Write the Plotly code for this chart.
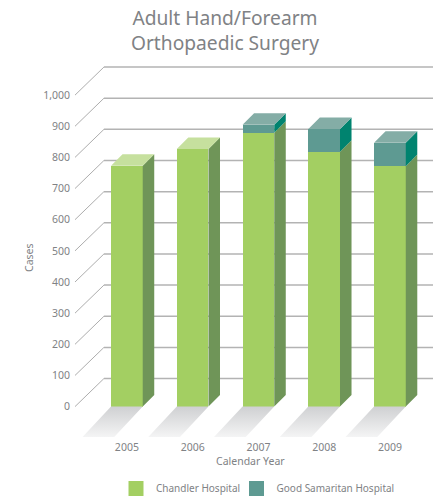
import plotly.graph_objects as go

years = ["2005", "2006", "2007", "2008", "2009"]
chandler = [773, 827, 879, 818, 772]
samaritan = [0, 0, 26, 73, 75]
y_ticks = [0, 100, 200, 300, 400, 500, 600, 700, 800, 900, 1000]

BAR_W = 0.482
DX, DY = 0.175, 37      # bar depth in axis units
GX, GY = 0.44, 90       # wall depth in axis units
SX, SY = -0.56, -126    # floor shadow in axis units
XR = [-0.789, 4.655]
YR = [-97.6, 1112.7]
FONT = "Noto Sans"
GREY = "#808285"

fig = go.Figure()
pos = list(range(len(years)))

# floor shadow
sx, sy = [], []
for i in pos:
    l, r = i - BAR_W / 2, i + BAR_W / 2
    sx += [l, r, r + SX, l + SX, l, None]
    sy += [0, 0, SY, SY, 0, None]
fig.add_trace(go.Scatter(x=sx, y=sy, mode="none", fill="toself", showlegend=False, hoverinfo="skip",
                         cliponaxis=False,
                         fillgradient=dict(type="vertical",
                                           colorscale=[[0, "#ffffff"], [1, "#cfd0d2"]])))

# front faces
fig.add_trace(go.Bar(x=pos, y=chandler, width=BAR_W, marker=dict(color="#A3CF62", line_width=0),
                     showlegend=False))
fig.add_trace(go.Bar(x=pos, y=samaritan, width=BAR_W, marker=dict(color="#5E9A92", line_width=0),
                     showlegend=False))


def side(lows, highs, color):
    xs, ys = [], []
    for i, lo, hi in zip(pos, lows, highs):
        if hi <= lo:
            continue
        r = i + BAR_W / 2
        xs += [r, r + DX, r + DX, r, r, None]
        ys += [lo, lo + DY, hi + DY, hi, lo, None]
    fig.add_trace(go.Scatter(x=xs, y=ys, mode="lines", line=dict(width=0), fill="toself", fillcolor=color,
                             showlegend=False, hoverinfo="skip", cliponaxis=False))


def top(idx, highs, color):
    xs, ys = [], []
    for i in idx:
        l, r = i - BAR_W / 2, i + BAR_W / 2
        h = highs[i]
        xs += [l, r, r + DX, l + DX, l, None]
        ys += [h, h, h + DY, h + DY, h, None]
    fig.add_trace(go.Scatter(x=xs, y=ys, mode="lines", line=dict(width=0), fill="toself", fillcolor=color,
                             showlegend=False, hoverinfo="skip", cliponaxis=False))


totals = [a + b for a, b in zip(chandler, samaritan)]
side([0] * len(pos), chandler, "#6F9558")
side(chandler, totals, "#00836F")
top([i for i in pos if samaritan[i] == 0], chandler, "#C6E09E")
top([i for i in pos if samaritan[i] > 0], totals, "#84ADA6")

# legend entries
fig.add_trace(go.Scatter(x=[None], y=[None], mode="markers", name="Chandler Hospital", legend="legend",
                         showlegend=True, marker=dict(symbol="square", size=15, color="#A3CF62")))
fig.add_trace(go.Scatter(x=[None], y=[None], mode="markers", name="Good Samaritan Hospital", legend="legend2",
                         showlegend=True, marker=dict(symbol="square", size=15, color="#5E9A92")))

shapes = []
for v in y_ticks:
    shapes.append(dict(type="line", layer="below", xref="x", yref="y", x0=XR[0] + GX, x1=XR[1],
                       y0=v + GY, y1=v + GY, line=dict(color="#b3b3b3", width=1.5)))
    shapes.append(dict(type="line", layer="below", xref="x", yref="y", x0=XR[0], x1=XR[0] + GX,
                       y0=v, y1=v + GY, line=dict(color="#adadad", width=1)))

legend_style = dict(orientation="h", xanchor="left", y=(437 - 474) / 377, yanchor="top", traceorder="normal",
                    bgcolor="rgba(0,0,0,0)", font=dict(size=10, color=GREY))

fig.update_layout(
    width=433, height=496, autosize=False,
    margin=dict(l=75, r=0, t=60, b=59, autoexpand=False),
    paper_bgcolor="white", plot_bgcolor="rgba(0,0,0,0)",
    barmode="stack", shapes=shapes,
    font=dict(family=FONT, size=10.5, color=GREY),
    title=dict(text="Adult Hand/Forearm<br>Orthopaedic Surgery", x=225 / 433, xanchor="center",
               y=1 - 25 / 496, yanchor="middle", font=dict(family=FONT, size=19.2, color="#808285")),
    xaxis=dict(range=XR, tickmode="array", tickvals=pos, ticktext=years, showgrid=False, zeroline=False,
               showline=False, ticks="", ticklabelstandoff=2),
    yaxis=dict(range=YR, tickmode="array", tickvals=y_ticks, tickformat=",", showgrid=False, zeroline=False,
               showline=False, ticks="", ticklabelstandoff=4),
    annotations=[
        dict(text="Calendar Year", xref="paper", yref="paper", x=(250 - 75) / 358, y=(437 - 461) / 377,
             xanchor="center", yanchor="middle", showarrow=False, font=dict(size=10.5, color=GREY)),
        dict(text="Cases", xref="paper", yref="paper", x=(29 - 75) / 358, y=(437 - 258) / 377, textangle=-90,
             xanchor="center", yanchor="middle", showarrow=False, font=dict(size=10.5, color=GREY)),
    ],
    legend=dict(x=(116 - 75) / 358, **legend_style),
    legend2=dict(x=(236.5 - 75) / 358, **legend_style),
)

fig.write_html("out.html", config=dict(displayModeBar=False),
               post_script="document.body.style.margin='0';document.documentElement.style.overflow='hidden';")
